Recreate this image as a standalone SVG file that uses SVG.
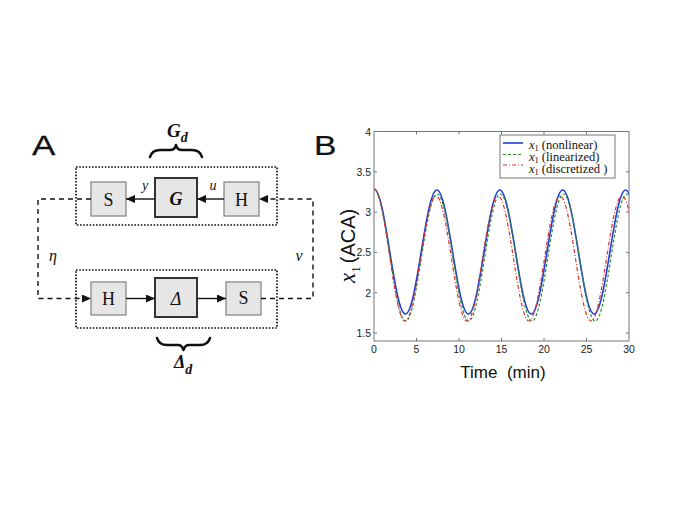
<svg xmlns="http://www.w3.org/2000/svg" width="685" height="513" viewBox="0 0 685 513">
<style>
.blk{fill:#e6e6e6;stroke:#808080;stroke-width:1.2}
.core{fill:#e6e6e6;stroke:#333;stroke-width:2}
.dot{fill:none;stroke:#111;stroke-width:1.7;stroke-dasharray:1.6 1.6}
.lbl{font-family:"Liberation Serif",serif;font-size:18px;fill:#111;text-anchor:middle;dominant-baseline:central}
.it{font-family:"Liberation Serif",serif;font-style:italic;fill:#111}
.bi{font-family:"Liberation Serif",serif;font-style:italic;font-weight:bold;fill:#111}
.sans{font-family:"Liberation Sans",Arial,sans-serif;fill:#111}
.solid{fill:none;stroke:#111;stroke-width:1.4}
.dash{fill:none;stroke:#111;stroke-width:1.4;stroke-dasharray:5 4}
.brace{fill:none;stroke:#111;stroke-width:2.6;stroke-linecap:round;stroke-linejoin:round}
.tick{stroke:#777;stroke-width:1}
.tl{font-family:"Liberation Sans",Arial,sans-serif;font-size:10.5px;fill:#222}
.leg{font-family:"Liberation Serif",serif;font-size:12.5px;fill:#111}
</style>
<defs>
<marker id="ah" markerWidth="9" markerHeight="8" refX="9" refY="4" orient="auto" markerUnits="userSpaceOnUse">
<path d="M0,0 L9,4 L0,8 z" fill="#111"/>
</marker>
<clipPath id="plotclip"><rect x="374" y="131" width="255" height="210"/></clipPath>
</defs>
<rect width="685" height="513" fill="#fff"/>

<!-- Panel A -->
<text class="sans" font-size="28" stroke="#111" stroke-width="0.25" transform="translate(32,155) scale(1.25,1)">A</text>

<g id="Gd-label">
<text class="bi" x="167" y="137" font-size="19">G<tspan font-size="14" dy="5">d</tspan></text>
<path class="brace" d="M150,157 Q152,150 160,150 L170,150 Q175,150 176,145 Q177,150 182,150 L192,150 Q200,150 202,157"/>
</g>

<g id="Gd-box"><rect class="dot" x="76" y="167" width="201" height="58"/></g>
<g id="Dd-box"><rect class="dot" x="76" y="270" width="201" height="58"/></g>

<g id="S-top"><rect class="blk" x="91" y="182" width="35" height="34"/><text class="lbl" x="108.5" y="200">S</text></g>
<g id="G"><rect class="core" x="155" y="178" width="42" height="39"/><text class="lbl" x="176" y="199" font-style="italic" font-weight="bold">G</text></g>
<g id="H-top"><rect class="blk" x="224" y="182" width="35" height="34"/><text class="lbl" x="241.5" y="200">H</text></g>

<g id="H-bot"><rect class="blk" x="91" y="282" width="35" height="33"/><text class="lbl" x="108.5" y="299">H</text></g>
<g id="Delta"><rect class="core" x="155" y="278" width="42" height="39"/><text class="lbl" x="176" y="299" font-style="italic" font-size="17">Δ</text></g>
<g id="S-bot"><rect class="blk" x="226" y="282" width="35" height="33"/><text class="lbl" x="243.5" y="298">S</text></g>

<g id="Dd-label">
<path class="brace" d="M157,338 Q159,345 167,345 L178,345 Q182,345 183.5,350 Q185,345 189,345 L200,345 Q208,345 210,338"/>
<text class="bi" x="174" y="368" font-size="18">Δ<tspan font-size="14" dy="6">d</tspan></text>
</g>

<g id="connectors">
<line class="solid" x1="224" y1="199" x2="197" y2="199" marker-end="url(#ah)"/>
<line class="solid" x1="155" y1="199" x2="126" y2="199" marker-end="url(#ah)"/>
<line class="solid" x1="126" y1="298.5" x2="155" y2="298.5" marker-end="url(#ah)"/>
<line class="solid" x1="197" y1="298.5" x2="226" y2="298.5" marker-end="url(#ah)"/>
<path class="dash" d="M91,199 H38 V298.5 H91" marker-end="url(#ah)"/>
<path class="dash" d="M261,298.5 H313 V199 H259" marker-end="url(#ah)"/>
<text class="it" x="145" y="190" font-size="14" text-anchor="middle">y</text>
<text class="it" x="213" y="190" font-size="14" text-anchor="middle">u</text>
<text class="it" x="53" y="261" font-size="16" text-anchor="middle">η</text>
<text class="it" x="299" y="261" font-size="16" text-anchor="middle">ν</text>
</g>

<!-- Panel B -->
<text class="sans" font-size="28" stroke="#111" stroke-width="0.25" transform="translate(314,155) scale(1.2,1)">B</text>

<g id="plot">
<rect x="374" y="131.5" width="255" height="209.5" fill="#fff" stroke="#777" stroke-width="1"/>
<g class="tick">
<line x1="374" y1="131.5" x2="377" y2="131.5"/><line x1="629" y1="131.5" x2="626" y2="131.5"/>
<line x1="374" y1="171.8" x2="377" y2="171.8"/><line x1="629" y1="171.8" x2="626" y2="171.8"/>
<line x1="374" y1="212.1" x2="377" y2="212.1"/><line x1="629" y1="212.1" x2="626" y2="212.1"/>
<line x1="374" y1="252.4" x2="377" y2="252.4"/><line x1="629" y1="252.4" x2="626" y2="252.4"/>
<line x1="374" y1="292.7" x2="377" y2="292.7"/><line x1="629" y1="292.7" x2="626" y2="292.7"/>
<line x1="374" y1="333" x2="377" y2="333"/><line x1="629" y1="333" x2="626" y2="333"/>
<line x1="416.5" y1="341" x2="416.5" y2="338"/><line x1="416.5" y1="131.5" x2="416.5" y2="134.5"/>
<line x1="459" y1="341" x2="459" y2="338"/><line x1="459" y1="131.5" x2="459" y2="134.5"/>
<line x1="501.5" y1="341" x2="501.5" y2="338"/><line x1="501.5" y1="131.5" x2="501.5" y2="134.5"/>
<line x1="544" y1="341" x2="544" y2="338"/><line x1="544" y1="131.5" x2="544" y2="134.5"/>
<line x1="586.5" y1="341" x2="586.5" y2="338"/><line x1="586.5" y1="131.5" x2="586.5" y2="134.5"/>
</g>
<g class="tl" text-anchor="end">
<text x="371" y="135.5">4</text>
<text x="371" y="175.8">3.5</text>
<text x="371" y="216.1">3</text>
<text x="371" y="256.4">2.5</text>
<text x="371" y="296.7">2</text>
<text x="371" y="337">1.5</text>
</g>
<g class="tl" text-anchor="middle">
<text x="374" y="353">0</text>
<text x="416.5" y="353">5</text>
<text x="459" y="353">10</text>
<text x="501.5" y="353">15</text>
<text x="544" y="353">20</text>
<text x="586.5" y="353">25</text>
<text x="629" y="353">30</text>
</g>
<text class="sans" x="503" y="378" font-size="17" text-anchor="middle">Time&#160; (min)</text>
<text transform="translate(355,283) rotate(-90)"><tspan class="it" font-size="23">x</tspan><tspan font-family="Liberation Serif,serif" font-size="13" dy="5">1</tspan><tspan class="sans" font-size="20" dy="-5" dx="3">(ACA)</tspan></text>

<g clip-path="url(#plotclip)">
<path fill="none" stroke="#1f3fd8" stroke-width="1.6" d="M374,189 C385.43,189 394.02,314 405.45,314 C416.88,314 425.47,190 436.9,190 C448.33,190 456.92,314 468.35,314 C479.78,314 488.37,190 499.8,190 C511.23,190 519.82,314 531.25,314 C542.68,314 551.27,190 562.7,190 C574.13,190 582.72,314 594.15,314 C605.58,314 614.17,190 625.6,190 C637.03,190 645.62,314 657.05,314"/>
<path fill="none" stroke="#2e8b2e" stroke-width="1.2" stroke-dasharray="3 2" d="M374,189 C385.48,189 394.12,321 405.6,321 C417.08,321 425.72,194 437.2,194 C448.68,194 457.32,321 468.8,321 C480.28,321 488.92,194 500.4,194 C511.88,194 520.52,321 532,321 C543.48,321 552.12,194 563.6,194 C575.08,194 583.72,321 595.2,321 C606.68,321 615.32,194 626.8,194 C638.28,194 646.92,321 658.4,321"/>
<path fill="none" stroke="#e0302a" stroke-width="1.2" stroke-dasharray="4 2 1 2" d="M374,189 C385.27,189 393.73,321 405,321 C416.27,321 424.73,196 436,196 C447.27,196 455.73,321 467,321 C478.27,321 486.73,196 498,196 C509.27,196 517.73,321 529,321 C540.27,321 548.73,196 560,196 C571.27,196 579.73,321 591,321 C602.27,321 610.73,196 622,196 C633.27,196 641.73,321 653,321"/>
</g>

<g id="legend">
<rect x="500" y="135" width="115" height="43" fill="#fff" stroke="#777" stroke-width="1"/>
<line x1="503" y1="143" x2="523" y2="143" stroke="#1f3fd8" stroke-width="1.6"/>
<line x1="503" y1="154.5" x2="523" y2="154.5" stroke="#2e8b2e" stroke-width="1.2" stroke-dasharray="3 2"/>
<line x1="503" y1="165" x2="523" y2="165" stroke="#e0302a" stroke-width="1.2" stroke-dasharray="4 2 1 2"/>
<text class="leg" x="529" y="148.5"><tspan font-style="italic">x</tspan><tspan font-size="8.5" dy="2.5">1</tspan><tspan dy="-2.5" dx="3">(nonlinear)</tspan></text>
<text class="leg" x="529" y="160.5"><tspan font-style="italic">x</tspan><tspan font-size="8.5" dy="2.5">1</tspan><tspan dy="-2.5" dx="3">(linearized)</tspan></text>
<text class="leg" x="529" y="172.5"><tspan font-style="italic">x</tspan><tspan font-size="8.5" dy="2.5">1</tspan><tspan dy="-2.5" dx="3">(discretized )</tspan></text>
</g>
</g>
</svg>
